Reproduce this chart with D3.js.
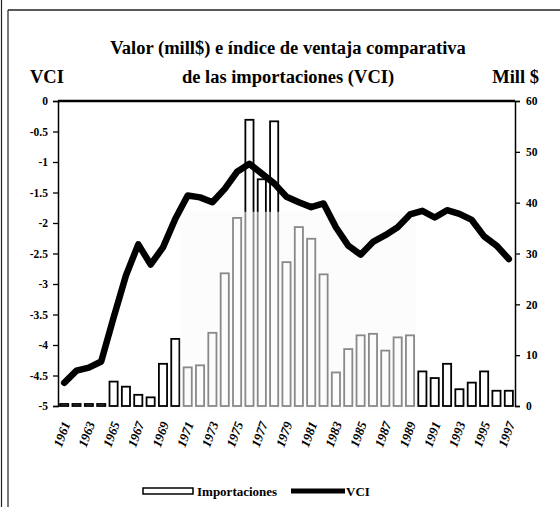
<!DOCTYPE html>
<html><head><meta charset="utf-8">
<script src="https://cdn.jsdelivr.net/npm/d3@7/dist/d3.min.js"></script>
<style>
body{margin:0;background:#fff;}
text{font-family:"Liberation Serif","Times New Roman",serif;font-weight:bold;fill:#000;}
</style></head><body>
<svg id="c" width="560" height="507"></svg>
<script>
const years = d3.range(1961, 1998).map(String);
const importaciones = [0.4,0.4,0.4,0.4,4.8,3.8,2.2,1.7,8.3,13.2,7.6,8.0,14.4,26.1,37.0,56.3,44.6,56.0,28.3,35.2,32.9,25.9,6.6,11.2,13.9,14.2,10.9,13.5,13.9,6.8,5.5,8.3,3.3,4.6,6.8,3.0,3.0];
const vci = [-4.62,-4.42,-4.37,-4.27,-3.55,-2.86,-2.35,-2.68,-2.40,-1.93,-1.55,-1.58,-1.66,-1.44,-1.16,-1.03,-1.19,-1.35,-1.57,-1.66,-1.74,-1.68,-2.07,-2.37,-2.52,-2.31,-2.20,-2.07,-1.86,-1.80,-1.91,-1.79,-1.85,-1.95,-2.22,-2.37,-2.59];
const leftTicks = [0,-0.5,-1,-1.5,-2,-2.5,-3,-3.5,-4,-4.5,-5];
const rightTicks = [0,10,20,30,40,50,60];
const xLabels = years.filter((d,i)=>i%2===0);
const titleLines = ["Valor (mill$) e índice de ventaja comparativa","de las importaciones (VCI)"];

const svg = d3.select("#c");
const L=58, R=515, T=101, B=406;
const x = d3.scaleBand().domain(years).range([L,R]).paddingInner(0.34).paddingOuter(0.17);
const yL = d3.scaleLinear().domain([-5,0]).range([B,T]);
const yR = d3.scaleLinear().domain([0,60]).range([B,T]);

// outer frame
svg.append("line").attr("x1",1.5).attr("x2",1.5).attr("y1",0).attr("y2",507).attr("stroke","#222").attr("stroke-width",1.2);
svg.append("line").attr("x1",8).attr("x2",8).attr("y1",10).attr("y2",507).attr("stroke","#222").attr("stroke-width",1.2);
svg.append("line").attr("x1",8).attr("x2",560).attr("y1",10).attr("y2",10).attr("stroke","#222").attr("stroke-width",1.4);

// titles
svg.selectAll(".title").data(titleLines).join("text")
  .attr("x",288).attr("y",(d,i)=>54+i*29).attr("text-anchor","middle")
  .style("font-size","18.5px").text(d=>d);
svg.append("text").attr("x",30).attr("y",83).style("font-size","18.5px").text("VCI");
svg.append("text").attr("x",539).attr("y",83).attr("text-anchor","end").style("font-size","18.5px").text("Mill $");

// bars
const bars = svg.append("g");
bars.selectAll("rect").data(importaciones).join("rect")
  .attr("x",(d,i)=>x(years[i])).attr("width",x.bandwidth())
  .attr("y",d=>yR(d)).attr("height",d=>B-yR(d))
  .attr("fill","#fff").attr("stroke","#000").attr("stroke-width",1.8);

// faded scan region
svg.append("rect")
  .attr("x",x("1971")-x.step()*0.3).attr("y",yR(38.2))
  .attr("width",x("1989")+x.bandwidth()+2-(x("1971")-x.step()*0.3))
  .attr("height",B+3-yR(38.2))
  .attr("fill","#fafafa").attr("opacity",0.55);

// axes
const axL = d3.axisLeft(yL).tickValues(leftTicks).tickSize(5).tickPadding(5).tickFormat(d=>String(d));
const gL = svg.append("g").attr("transform",`translate(${L},0)`).call(axL);
const axR = d3.axisRight(yR).tickValues(rightTicks).tickSize(5).tickPadding(6).tickFormat(d3.format("d"));
const gR = svg.append("g").attr("transform",`translate(${R},0)`).call(axR);
[gL,gR].forEach(g=>{
  g.select(".domain").attr("stroke","#000").attr("stroke-width",1.5);
  g.selectAll(".tick line").attr("stroke","#000").attr("stroke-width",1.3);
  g.selectAll(".tick text").style("font-family",'"Liberation Serif",serif').style("font-weight","bold").style("font-size","11.5px").attr("fill","#000");
});
// category axis at VCI = 0 (top)
svg.append("line").attr("x1",L).attr("x2",R).attr("y1",yL(0)).attr("y2",yL(0)).attr("stroke","#000").attr("stroke-width",2.4);

// x labels
svg.selectAll(".xl").data(xLabels).join("text")
  .attr("transform",d=>`translate(${x(d)+x.bandwidth()/2+2},${B+16}) rotate(-70)`)
  .attr("text-anchor","end").attr("dy","0.35em")
  .style("font-size","13px").style("font-style","italic").text(d=>d);

// VCI line
const line = d3.line().x((d,i)=>x(years[i])+x.bandwidth()/2).y(d=>yL(d));
svg.append("path").datum(vci).attr("d",line).attr("fill","none")
  .attr("stroke","#000").attr("stroke-width",6.5).attr("stroke-linejoin","round").attr("stroke-linecap","round");

// legend
svg.append("rect").attr("x",143).attr("y",488).attr("width",50).attr("height",6)
  .attr("fill","#fff").attr("stroke","#000").attr("stroke-width",1.5);
svg.append("text").attr("x",197).attr("y",496).style("font-size","13px").text("Importaciones");
svg.append("line").attr("x1",291).attr("x2",345).attr("y1",491).attr("y2",491).attr("stroke","#000").attr("stroke-width",5);
svg.append("text").attr("x",346).attr("y",496).style("font-size","13px").text("VCI");
</script></body></html>
